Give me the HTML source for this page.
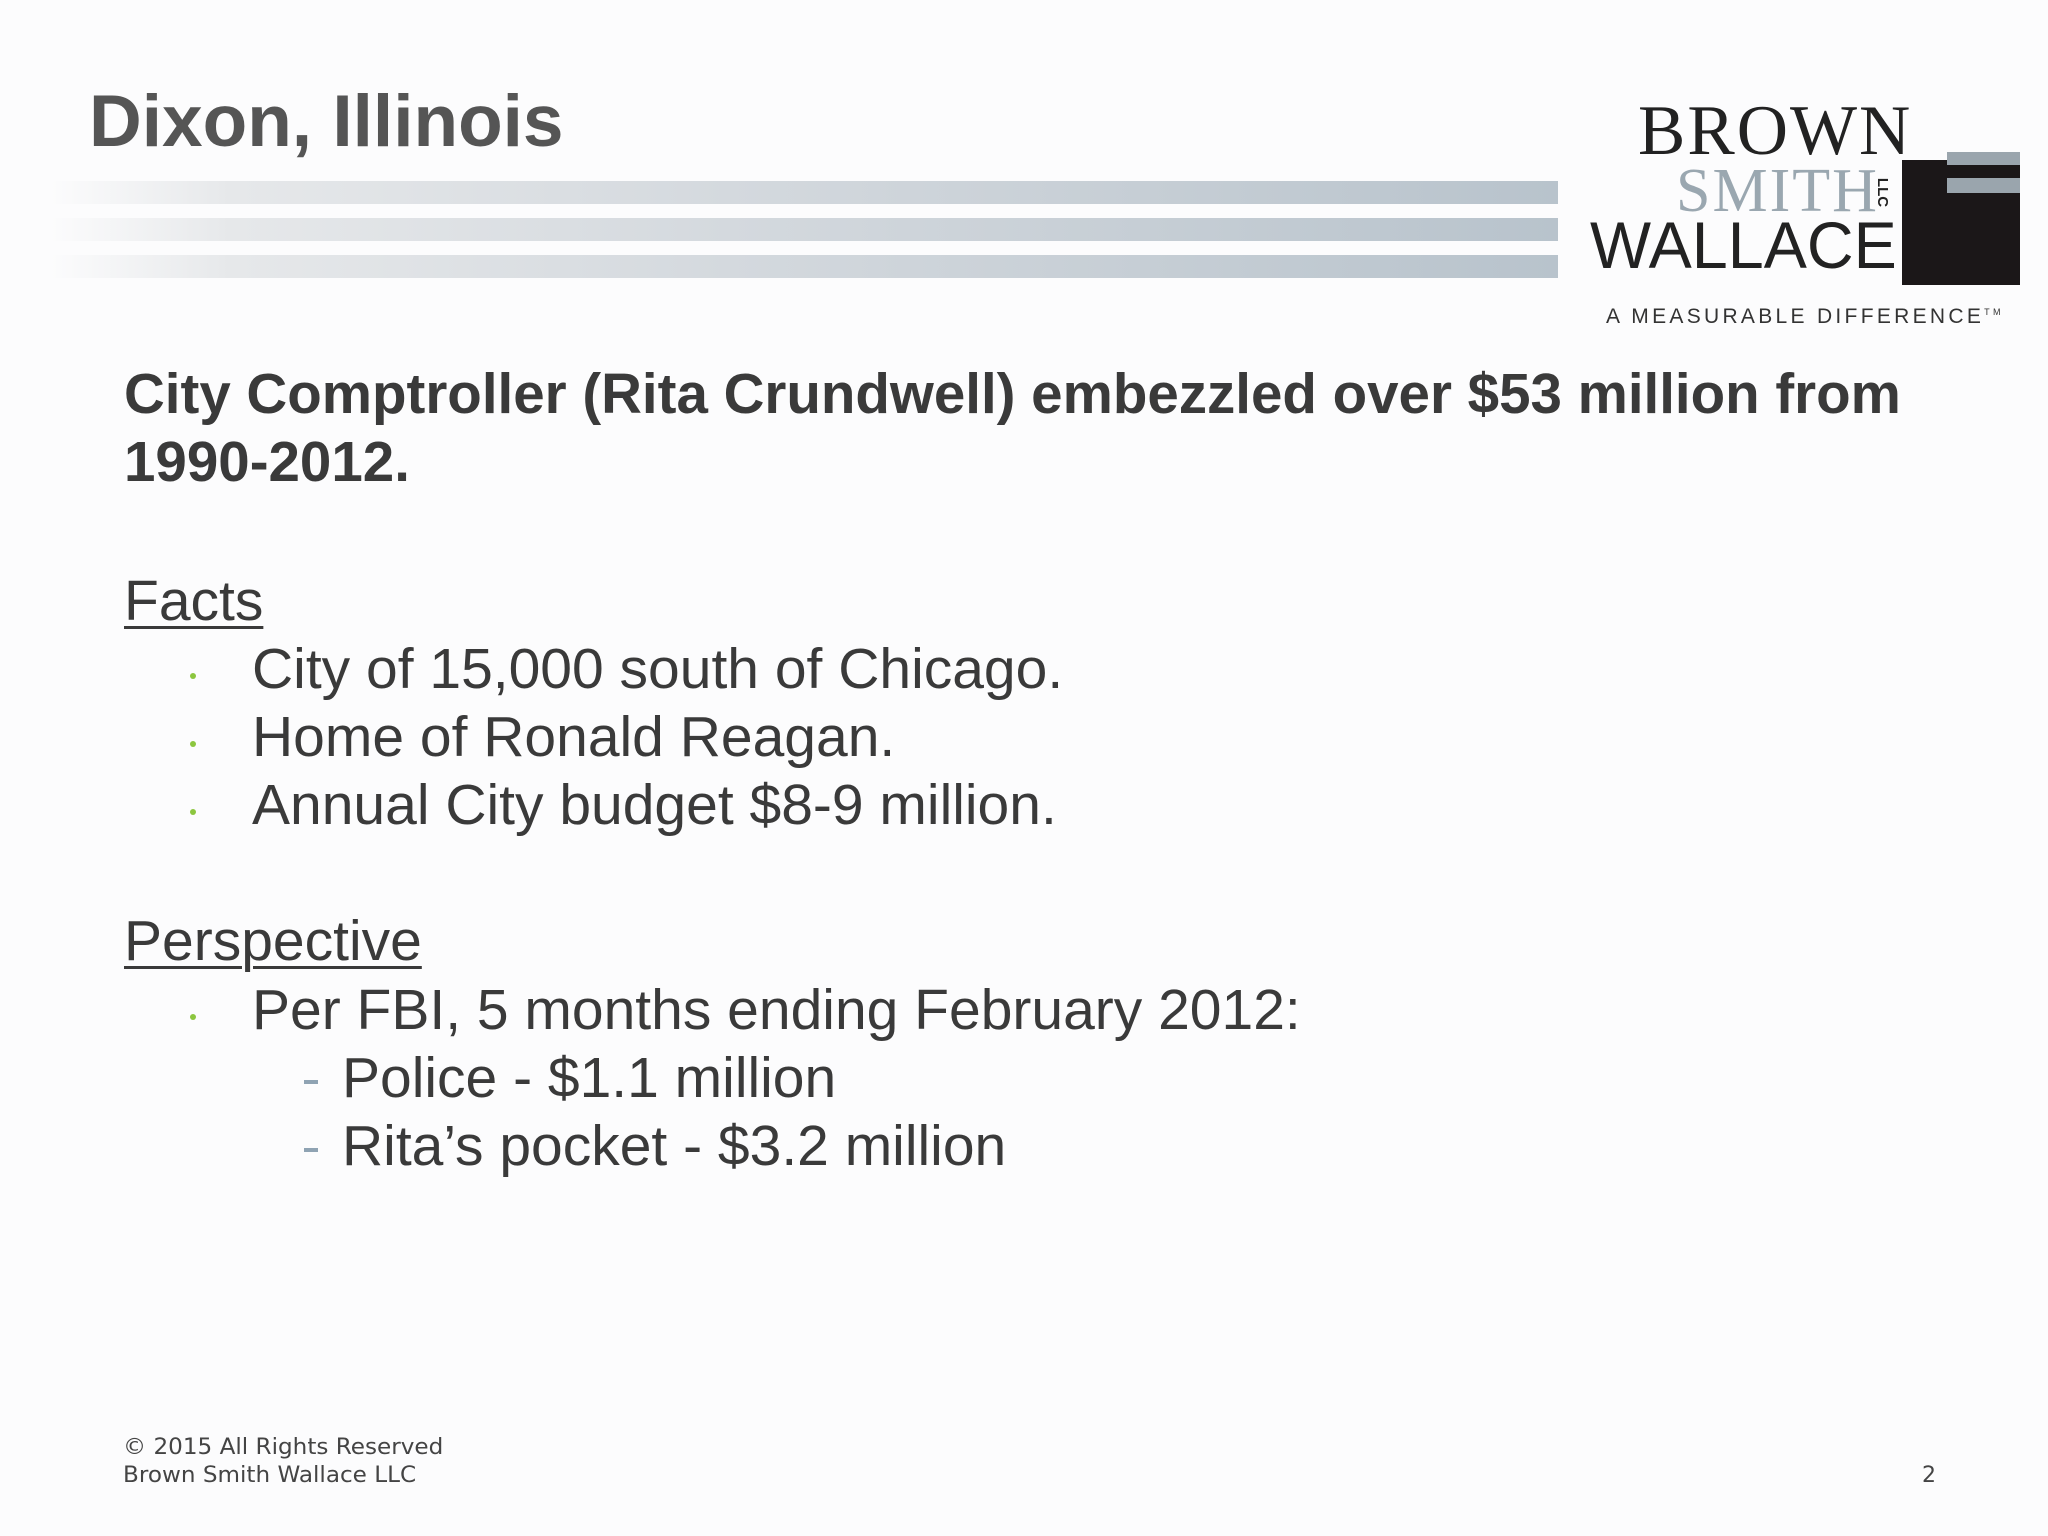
<!DOCTYPE html>
<html><head><meta charset="utf-8"><style>
html,body{margin:0;padding:0}
body{width:2048px;height:1536px;position:relative;background:#fcfcfd;font-family:"Liberation Sans",Arial,sans-serif;overflow:hidden}
.a{position:absolute;white-space:nowrap}
.t{color:#3a3a3a;font-size:57px;line-height:1}
.bul{position:absolute;width:6px;height:6px;border-radius:50%;background:#8cc63f}
.dash{position:absolute;width:14px;height:4px;background:#8fa3b3}
.stripe{position:absolute;left:50px;width:1508px;height:23px;background:linear-gradient(90deg,rgba(255,255,255,0) 0%,#e6e8ea 12%,#d4d9de 45%,#b8c3cc 100%)}
</style></head><body>
<div class="a" style="left:89px;top:80px;font-size:73px;font-weight:bold;color:#555">Dixon, Illinois</div>
<div class="stripe" style="top:181px"></div>
<div class="stripe" style="top:218px"></div>
<div class="stripe" style="top:255px"></div>

<div>
<div class="a" style="left:1638px;top:96px;font-family:'Liberation Serif',serif;font-size:71px;color:#222;letter-spacing:2px;line-height:1">BROWN</div>
<div class="a" style="left:1676px;top:160px;font-family:'Liberation Serif',serif;font-size:62px;color:#9aa7b0;letter-spacing:2px;line-height:1">SMITH</div>
<div class="a" style="left:1868px;top:184px;font-size:15px;color:#222;transform:rotate(90deg);font-weight:bold">LLC</div>
<div class="a" style="left:1590px;top:212px;font-size:66px;color:#222;line-height:1;transform:scaleX(0.98);transform-origin:left">WALLACE</div>
<div class="a" style="left:1902px;top:160px;width:118px;height:125px;background:#1b1718"></div>
<div class="a" style="left:1947px;top:152px;width:73px;height:13px;background:#9aa5ad"></div>
<div class="a" style="left:1947px;top:178px;width:73px;height:15px;background:#9aa5ad"></div>
<div class="a" style="left:1606px;top:305px;font-size:21px;color:#333;letter-spacing:3.3px">A MEASURABLE DIFFERENCE<sup style="font-size:9px">TM</sup></div>
</div>

<div class="a" style="left:124px;top:360px;font-size:56.5px;font-weight:bold;color:#3a3a3a;line-height:68px">City Comptroller (Rita Crundwell) embezzled over $53 million from<br>1990-2012.</div>

<div class="a t" style="left:124px;top:573px;text-decoration:underline;text-decoration-thickness:3px;text-underline-offset:6px">Facts</div>
<div class="bul" style="left:190px;top:673px"></div>
<div class="a t" style="left:252px;top:641px">City of 15,000 south of Chicago.</div>
<div class="bul" style="left:190px;top:741px"></div>
<div class="a t" style="left:252px;top:709px">Home of Ronald Reagan.</div>
<div class="bul" style="left:190px;top:809px"></div>
<div class="a t" style="left:252px;top:777px">Annual City budget $8-9 million.</div>

<div class="a t" style="left:124px;top:913px;text-decoration:underline;text-decoration-thickness:3px;text-underline-offset:6px">Perspective</div>
<div class="bul" style="left:190px;top:1014px"></div>
<div class="a t" style="left:252px;top:982px">Per FBI, 5 months ending February 2012:</div>
<div class="dash" style="left:304px;top:1080px"></div>
<div class="a t" style="left:342px;top:1050px">Police - $1.1 million</div>
<div class="dash" style="left:304px;top:1148px"></div>
<div class="a t" style="left:342px;top:1118px">Rita’s pocket - $3.2 million</div>

<div class="a" style="left:123px;top:1434px;font-family:'DejaVu Sans',sans-serif;font-size:22px;color:#444;line-height:28px;transform:scaleX(1.05);transform-origin:left">© 2015 All Rights Reserved<br>Brown Smith Wallace LLC</div>
<div class="a" style="left:1922px;top:1463px;font-family:'DejaVu Sans',sans-serif;font-size:22px;color:#444">2</div>
</body></html>
